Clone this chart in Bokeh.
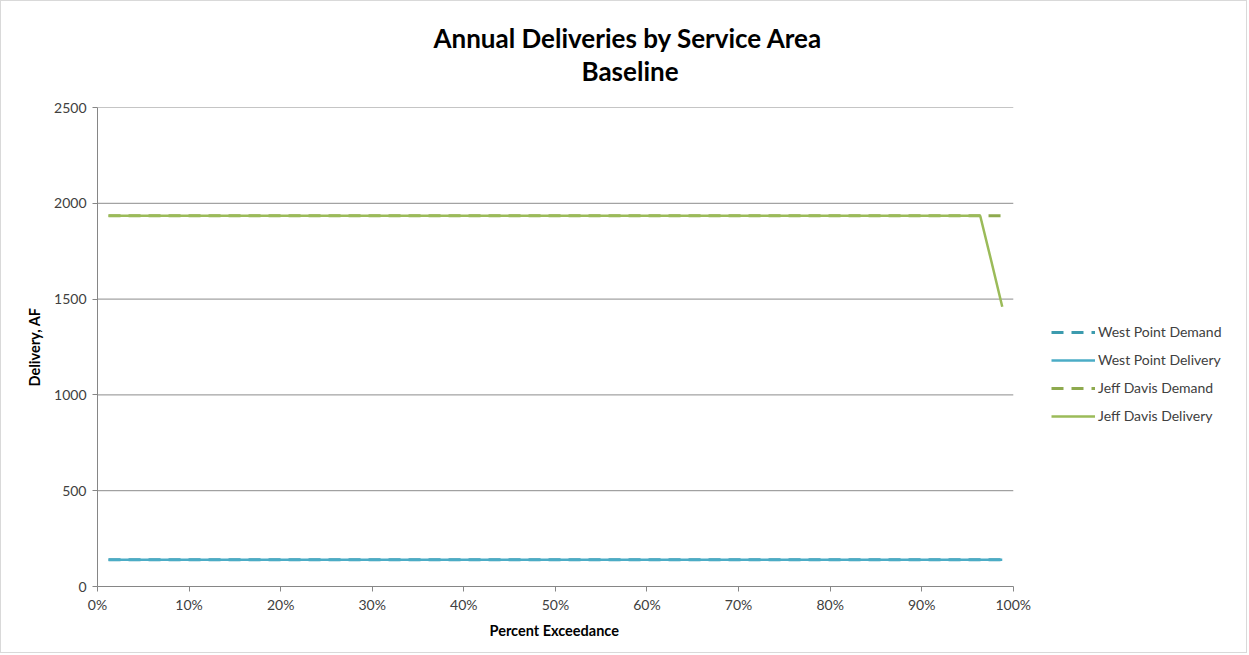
from bokeh.plotting import figure
from bokeh.models import (Legend, LegendItem, NumeralTickFormatter, Title,
                          FixedTicker, Range1d, ColumnDataSource)
from bokeh.embed import file_html
from bokeh.resources import INLINE

# Annual deliveries, ranked; 82 water years, exceedance = rank / (n + 1)
n_years = 82
exceedance = [(i + 1) / (n_years + 1) for i in range(n_years)]

west_point_demand = [140] * n_years
west_point_delivery = [140] * n_years
jeff_davis_demand = [1935] * n_years
jeff_davis_delivery = [1935] * 80 + [1700, 1460]

y_ticks = [0, 500, 1000, 1500, 2000, 2500]
x_ticks = [0.0, 0.1, 0.2, 0.3, 0.4, 0.5, 0.6, 0.7, 0.8, 0.9, 1.0]

FONT = "Lato"
TEAL = "#4BACC6"
TEAL_DARK = "#3C9BAE"
GREEN = "#9BBB59"
GREEN_DARK = "#8EAA4E"

# plotting region: 0..100 % spans 915 px; the frame continues to the right
# so the legend can sit beside the data area
PLOT_PX = 915
FRAME_PX = 1150
x_end = FRAME_PX / PLOT_PX

src = ColumnDataSource(dict(
    x=exceedance,
    wpd=west_point_demand, wpv=west_point_delivery,
    jdd=jeff_davis_demand, jdv=jeff_davis_delivery,
))

p = figure(width=1247, height=653, output_backend="svg", toolbar_location=None,
           x_range=Range1d(0, x_end), y_range=Range1d(0, 2500),
           min_border_left=96, min_border_right=0,
           min_border_top=106, min_border_bottom=68)
p.styles = {"border": "1px solid #d9d9d9"}
p.outline_line_color = None
p.background_fill_color = "white"
p.border_fill_color = "white"

# horizontal gridlines over the data area only
p.xgrid.grid_line_color = None
p.ygrid.grid_line_color = None
p.segment(x0=0, x1=1, y0=y_ticks[1:], y1=y_ticks[1:],
          line_color="#8c8c8c", line_width=1)

# series: demand drawn first (dashed), delivery on top
r1 = p.line("x", "wpd", source=src, line_color=TEAL_DARK, line_width=3, line_dash="12 8")
r2 = p.line("x", "wpv", source=src, line_color=TEAL, line_width=2.5)
r3 = p.line("x", "jdd", source=src, line_color=GREEN_DARK, line_width=3, line_dash="12 8")
r4 = p.line("x", "jdv", source=src, line_color=GREEN, line_width=2.5)

# axes
p.yaxis.ticker = FixedTicker(ticks=y_ticks)
p.xaxis.ticker = FixedTicker(ticks=x_ticks)
p.xaxis.bounds = (0, 1)
p.xaxis.formatter = NumeralTickFormatter(format="0%")
for ax in (p.xaxis, p.yaxis):
    ax.axis_line_color = "#868686"
    ax.major_tick_line_color = "#868686"
    ax.minor_tick_line_color = None
    ax.major_tick_out = 5
    ax.major_tick_in = 0
    ax.major_label_text_font = FONT
    ax.major_label_text_font_size = "14px"
    ax.major_label_text_color = "#404040"
    ax.axis_label_text_font = FONT
    ax.axis_label_text_font_size = "14.5px"
    ax.axis_label_text_font_style = "bold"
    ax.axis_label_text_color = "#000000"
p.yaxis.major_label_standoff = 6
p.xaxis.major_label_standoff = 4
p.yaxis.axis_label = "Delivery, AF"
p.yaxis.axis_label_standoff = 8

# x-axis title under the 0..100 % span
p.add_layout(Title(text="Percent Exceedance", align="left", offset=392, standoff=8,
                   text_font=FONT, text_font_size="14.5px", text_font_style="bold",
                   text_color="#000000"), "below")

# two-line chart title; the later one stacks above
for txt, off, sd in (("Baseline", 484, 42), ("Annual Deliveries by Service Area", 336, -45)):
    p.add_layout(Title(text=txt, align="left", offset=off, standoff=sd,
                       text_font=FONT, text_font_size="26px", text_font_style="bold",
                       text_color="#000000"), "above")

legend = Legend(items=[
    LegendItem(label="West Point Demand", renderers=[r1]),
    LegendItem(label="West Point Delivery", renderers=[r2]),
    LegendItem(label="Jeff Davis Demand", renderers=[r3]),
    LegendItem(label="Jeff Davis Delivery", renderers=[r4]),
], location=(954, 162), orientation="vertical")
legend.label_text_font = FONT
legend.label_text_font_size = "14px"
legend.label_text_color = "#404040"
legend.glyph_width = 44
legend.glyph_height = 14
legend.spacing = 11
legend.label_standoff = 3
legend.padding = 4
legend.margin = 0
legend.border_line_color = None
legend.background_fill_alpha = 0
p.add_layout(legend)

open("out.html", "w").write(file_html(p, INLINE))
